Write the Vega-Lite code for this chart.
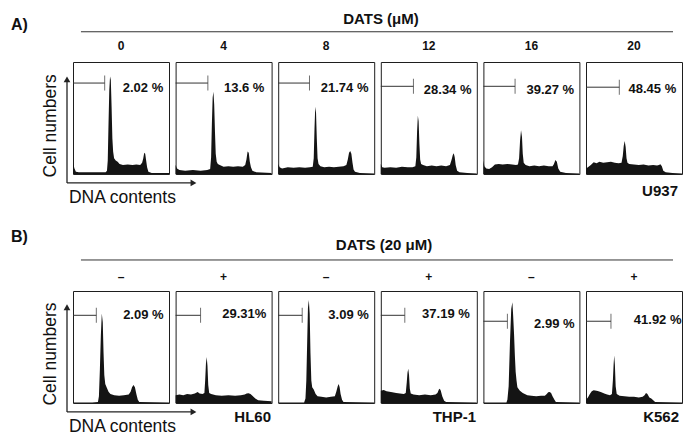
{
  "$schema": "https://vega.github.io/schema/vega-lite/v6.json",
  "background": "white",
  "padding": {"left": 10, "top": 11, "right": 4, "bottom": 4},
  "datasets": {
    "hist": [
      {"p":"A0","ch":0,"n":10},{"p":"A0","ch":1.5,"n":5},{"p":"A0","ch":3,"n":2},{"p":"A0","ch":6,"n":1.5},{"p":"A0","ch":15,"n":1.5},{"p":"A0","ch":25,"n":1.5},{"p":"A0","ch":34,"n":1.5},{"p":"A0","ch":35.4,"n":3},{"p":"A0","ch":36.2,"n":12},{"p":"A0","ch":37,"n":45},{"p":"A0","ch":37.8,"n":75},{"p":"A0","ch":38.6,"n":87},{"p":"A0","ch":39.4,"n":84},{"p":"A0","ch":40.2,"n":60},{"p":"A0","ch":41,"n":32},{"p":"A0","ch":41.8,"n":20},{"p":"A0","ch":42.8,"n":14},{"p":"A0","ch":44.5,"n":12},{"p":"A0","ch":46.5,"n":11},{"p":"A0","ch":48.5,"n":9},{"p":"A0","ch":52,"n":8},{"p":"A0","ch":57,"n":8.5},{"p":"A0","ch":62,"n":8},{"p":"A0","ch":66,"n":8.5},{"p":"A0","ch":70,"n":8},{"p":"A0","ch":72,"n":10},{"p":"A0","ch":73.2,"n":14},{"p":"A0","ch":74.2,"n":19},{"p":"A0","ch":75.2,"n":18},{"p":"A0","ch":76.2,"n":12},{"p":"A0","ch":77.2,"n":6},{"p":"A0","ch":78.5,"n":2},{"p":"A0","ch":82,"n":1},{"p":"A0","ch":100,"n":1},
      {"p":"A4","ch":0,"n":8},{"p":"A4","ch":1.5,"n":5},{"p":"A4","ch":4,"n":3.5},{"p":"A4","ch":10,"n":3},{"p":"A4","ch":18,"n":3.5},{"p":"A4","ch":26,"n":3},{"p":"A4","ch":33,"n":3.5},{"p":"A4","ch":36,"n":4.5},{"p":"A4","ch":37,"n":15},{"p":"A4","ch":37.8,"n":45},{"p":"A4","ch":38.6,"n":68},{"p":"A4","ch":39.4,"n":73.5},{"p":"A4","ch":40.2,"n":62},{"p":"A4","ch":41,"n":38},{"p":"A4","ch":41.8,"n":18},{"p":"A4","ch":42.8,"n":11},{"p":"A4","ch":44,"n":9},{"p":"A4","ch":46,"n":8},{"p":"A4","ch":50,"n":6.5},{"p":"A4","ch":55,"n":7},{"p":"A4","ch":60,"n":6.5},{"p":"A4","ch":65,"n":7},{"p":"A4","ch":70,"n":6.5},{"p":"A4","ch":72.5,"n":8},{"p":"A4","ch":73.8,"n":13},{"p":"A4","ch":75,"n":20},{"p":"A4","ch":76.2,"n":19},{"p":"A4","ch":77.3,"n":11},{"p":"A4","ch":78.5,"n":6},{"p":"A4","ch":80,"n":3},{"p":"A4","ch":84,"n":1.5},{"p":"A4","ch":100,"n":1},
      {"p":"A8","ch":0,"n":9},{"p":"A8","ch":1.5,"n":6},{"p":"A8","ch":4,"n":5},{"p":"A8","ch":10,"n":6},{"p":"A8","ch":16,"n":5.5},{"p":"A8","ch":22,"n":6},{"p":"A8","ch":28,"n":5.5},{"p":"A8","ch":33,"n":6},{"p":"A8","ch":36,"n":6.5},{"p":"A8","ch":37,"n":14},{"p":"A8","ch":37.8,"n":40},{"p":"A8","ch":38.6,"n":60},{"p":"A8","ch":39.4,"n":55},{"p":"A8","ch":40.2,"n":32},{"p":"A8","ch":41,"n":14},{"p":"A8","ch":42,"n":9},{"p":"A8","ch":44,"n":7},{"p":"A8","ch":48,"n":6},{"p":"A8","ch":53,"n":6.5},{"p":"A8","ch":58,"n":6},{"p":"A8","ch":63,"n":6.5},{"p":"A8","ch":68,"n":7},{"p":"A8","ch":71,"n":8},{"p":"A8","ch":72.5,"n":13},{"p":"A8","ch":73.8,"n":19},{"p":"A8","ch":75,"n":20.5},{"p":"A8","ch":76.2,"n":18},{"p":"A8","ch":77.4,"n":10},{"p":"A8","ch":78.5,"n":4},{"p":"A8","ch":80,"n":2},{"p":"A8","ch":85,"n":1},{"p":"A8","ch":100,"n":0.5},
      {"p":"A12","ch":0,"n":9},{"p":"A12","ch":1.5,"n":6},{"p":"A12","ch":4,"n":5.5},{"p":"A12","ch":10,"n":6},{"p":"A12","ch":16,"n":5.5},{"p":"A12","ch":22,"n":6.5},{"p":"A12","ch":28,"n":6},{"p":"A12","ch":33,"n":6},{"p":"A12","ch":36,"n":7},{"p":"A12","ch":37,"n":15},{"p":"A12","ch":37.8,"n":38},{"p":"A12","ch":38.6,"n":52},{"p":"A12","ch":39.4,"n":47},{"p":"A12","ch":40.2,"n":27},{"p":"A12","ch":41,"n":13},{"p":"A12","ch":42,"n":9},{"p":"A12","ch":44,"n":8},{"p":"A12","ch":48,"n":7},{"p":"A12","ch":53,"n":7.5},{"p":"A12","ch":58,"n":7},{"p":"A12","ch":63,"n":7.5},{"p":"A12","ch":68,"n":7},{"p":"A12","ch":72,"n":8},{"p":"A12","ch":73.5,"n":12},{"p":"A12","ch":75,"n":17},{"p":"A12","ch":76,"n":18.5},{"p":"A12","ch":77,"n":15},{"p":"A12","ch":78,"n":8},{"p":"A12","ch":79.5,"n":3},{"p":"A12","ch":82,"n":1.5},{"p":"A12","ch":90,"n":1},{"p":"A12","ch":100,"n":0.5},
      {"p":"A16","ch":0,"n":12},{"p":"A16","ch":1,"n":7},{"p":"A16","ch":3,"n":5},{"p":"A16","ch":6,"n":4.5},{"p":"A16","ch":9,"n":6},{"p":"A16","ch":12,"n":8.5},{"p":"A16","ch":16,"n":9},{"p":"A16","ch":20,"n":8.5},{"p":"A16","ch":25,"n":9},{"p":"A16","ch":30,"n":8.5},{"p":"A16","ch":34,"n":8},{"p":"A16","ch":36,"n":8.5},{"p":"A16","ch":37.2,"n":14},{"p":"A16","ch":38.2,"n":30},{"p":"A16","ch":39.2,"n":39},{"p":"A16","ch":40.2,"n":33},{"p":"A16","ch":41,"n":18},{"p":"A16","ch":42,"n":10},{"p":"A16","ch":44,"n":8},{"p":"A16","ch":48,"n":7},{"p":"A16","ch":53,"n":7.5},{"p":"A16","ch":58,"n":7},{"p":"A16","ch":63,"n":7.5},{"p":"A16","ch":68,"n":7},{"p":"A16","ch":72,"n":7},{"p":"A16","ch":73.5,"n":9},{"p":"A16","ch":75,"n":12.5},{"p":"A16","ch":76.5,"n":11},{"p":"A16","ch":78,"n":5},{"p":"A16","ch":80,"n":2},{"p":"A16","ch":86,"n":1},{"p":"A16","ch":100,"n":0.5},
      {"p":"A20","ch":0,"n":5},{"p":"A20","ch":2,"n":6},{"p":"A20","ch":5,"n":8},{"p":"A20","ch":8,"n":10.5},{"p":"A20","ch":11,"n":9.5},{"p":"A20","ch":14,"n":11},{"p":"A20","ch":18,"n":10},{"p":"A20","ch":22,"n":10.5},{"p":"A20","ch":26,"n":11},{"p":"A20","ch":30,"n":10},{"p":"A20","ch":34,"n":9.5},{"p":"A20","ch":37,"n":10},{"p":"A20","ch":38.3,"n":16},{"p":"A20","ch":39.3,"n":25},{"p":"A20","ch":40.3,"n":29.5},{"p":"A20","ch":41.3,"n":24},{"p":"A20","ch":42.2,"n":14},{"p":"A20","ch":43.2,"n":10},{"p":"A20","ch":45,"n":9},{"p":"A20","ch":50,"n":8.5},{"p":"A20","ch":55,"n":8},{"p":"A20","ch":60,"n":8.5},{"p":"A20","ch":65,"n":7.5},{"p":"A20","ch":70,"n":8},{"p":"A20","ch":74,"n":7.5},{"p":"A20","ch":76,"n":8},{"p":"A20","ch":77.5,"n":8.6},{"p":"A20","ch":79,"n":7},{"p":"A20","ch":80.5,"n":3},{"p":"A20","ch":83,"n":1.5},{"p":"A20","ch":90,"n":1},{"p":"A20","ch":100,"n":0.5},
      {"p":"B1","ch":0,"n":0.5},{"p":"B1","ch":20,"n":0.5},{"p":"B1","ch":26,"n":1},{"p":"B1","ch":27,"n":6},{"p":"B1","ch":28,"n":30},{"p":"B1","ch":29,"n":60},{"p":"B1","ch":30,"n":80},{"p":"B1","ch":31,"n":72},{"p":"B1","ch":31.8,"n":45},{"p":"B1","ch":32.6,"n":25},{"p":"B1","ch":33.6,"n":17},{"p":"B1","ch":35,"n":14},{"p":"B1","ch":37,"n":10},{"p":"B1","ch":39,"n":8},{"p":"B1","ch":43,"n":7},{"p":"B1","ch":48,"n":6.5},{"p":"B1","ch":53,"n":7},{"p":"B1","ch":58,"n":7.5},{"p":"B1","ch":60,"n":10},{"p":"B1","ch":61.5,"n":14},{"p":"B1","ch":63,"n":16},{"p":"B1","ch":64.5,"n":14},{"p":"B1","ch":66,"n":8},{"p":"B1","ch":67.5,"n":3},{"p":"B1","ch":69,"n":0.8},{"p":"B1","ch":100,"n":0.5},
      {"p":"B2","ch":0,"n":7},{"p":"B2","ch":4,"n":7.5},{"p":"B2","ch":8,"n":7},{"p":"B2","ch":12,"n":8},{"p":"B2","ch":16,"n":7.5},{"p":"B2","ch":20,"n":8.5},{"p":"B2","ch":23,"n":9.8},{"p":"B2","ch":25,"n":8.5},{"p":"B2","ch":28,"n":8},{"p":"B2","ch":30,"n":9},{"p":"B2","ch":30.8,"n":20},{"p":"B2","ch":31.6,"n":35},{"p":"B2","ch":32.4,"n":41},{"p":"B2","ch":33.2,"n":33},{"p":"B2","ch":34,"n":16},{"p":"B2","ch":35,"n":9},{"p":"B2","ch":37,"n":8},{"p":"B2","ch":42,"n":7},{"p":"B2","ch":48,"n":6.5},{"p":"B2","ch":55,"n":7},{"p":"B2","ch":62,"n":6.5},{"p":"B2","ch":68,"n":7},{"p":"B2","ch":72,"n":7.5},{"p":"B2","ch":74,"n":8.5},{"p":"B2","ch":76,"n":8.8},{"p":"B2","ch":78,"n":8},{"p":"B2","ch":80,"n":6.5},{"p":"B2","ch":83,"n":4},{"p":"B2","ch":86,"n":2.5},{"p":"B2","ch":92,"n":2},{"p":"B2","ch":100,"n":1.5},
      {"p":"B3","ch":0,"n":0.5},{"p":"B3","ch":27,"n":0.5},{"p":"B3","ch":28.4,"n":4},{"p":"B3","ch":29.3,"n":20},{"p":"B3","ch":30.2,"n":55},{"p":"B3","ch":31,"n":85},{"p":"B3","ch":31.9,"n":92},{"p":"B3","ch":32.8,"n":80},{"p":"B3","ch":33.6,"n":45},{"p":"B3","ch":34.5,"n":20},{"p":"B3","ch":35.4,"n":14},{"p":"B3","ch":37,"n":12},{"p":"B3","ch":39,"n":8},{"p":"B3","ch":41,"n":6},{"p":"B3","ch":45,"n":5.5},{"p":"B3","ch":50,"n":5},{"p":"B3","ch":55,"n":5.5},{"p":"B3","ch":59,"n":6},{"p":"B3","ch":60.5,"n":10},{"p":"B3","ch":62,"n":15},{"p":"B3","ch":63,"n":17},{"p":"B3","ch":64,"n":14},{"p":"B3","ch":65,"n":8},{"p":"B3","ch":66.5,"n":3},{"p":"B3","ch":68,"n":0.8},{"p":"B3","ch":100,"n":0.5},
      {"p":"B4","ch":0,"n":11},{"p":"B4","ch":3,"n":11.5},{"p":"B4","ch":6,"n":10.5},{"p":"B4","ch":9,"n":10},{"p":"B4","ch":12,"n":9.5},{"p":"B4","ch":16,"n":9},{"p":"B4","ch":20,"n":8.5},{"p":"B4","ch":24,"n":8},{"p":"B4","ch":26,"n":9},{"p":"B4","ch":27,"n":18},{"p":"B4","ch":27.8,"n":27},{"p":"B4","ch":28.6,"n":30.6},{"p":"B4","ch":29.4,"n":25},{"p":"B4","ch":30.2,"n":13},{"p":"B4","ch":31.2,"n":8.5},{"p":"B4","ch":34,"n":7.5},{"p":"B4","ch":40,"n":7},{"p":"B4","ch":46,"n":7.5},{"p":"B4","ch":52,"n":7},{"p":"B4","ch":57,"n":7.5},{"p":"B4","ch":59,"n":9},{"p":"B4","ch":60.5,"n":12},{"p":"B4","ch":61.5,"n":12.8},{"p":"B4","ch":62.5,"n":11},{"p":"B4","ch":64,"n":6},{"p":"B4","ch":66,"n":2},{"p":"B4","ch":68,"n":0.8},{"p":"B4","ch":100,"n":0.5},
      {"p":"B5","ch":0,"n":0.5},{"p":"B5","ch":24,"n":0.5},{"p":"B5","ch":25,"n":3},{"p":"B5","ch":26.3,"n":15},{"p":"B5","ch":27.7,"n":55},{"p":"B5","ch":29,"n":84},{"p":"B5","ch":30.2,"n":90},{"p":"B5","ch":31,"n":78},{"p":"B5","ch":31.9,"n":62},{"p":"B5","ch":32.8,"n":42},{"p":"B5","ch":33.6,"n":28},{"p":"B5","ch":34.5,"n":20},{"p":"B5","ch":35.4,"n":14},{"p":"B5","ch":38,"n":11},{"p":"B5","ch":41,"n":9},{"p":"B5","ch":45.8,"n":7},{"p":"B5","ch":50,"n":6.5},{"p":"B5","ch":55,"n":6},{"p":"B5","ch":60,"n":6.5},{"p":"B5","ch":64,"n":6.5},{"p":"B5","ch":66,"n":8},{"p":"B5","ch":67.5,"n":9.5},{"p":"B5","ch":69,"n":9.8},{"p":"B5","ch":70.5,"n":9},{"p":"B5","ch":72,"n":6},{"p":"B5","ch":74,"n":3},{"p":"B5","ch":75.5,"n":1},{"p":"B5","ch":100,"n":0.5},
      {"p":"B6","ch":0,"n":3},{"p":"B6","ch":2,"n":5},{"p":"B6","ch":4,"n":8},{"p":"B6","ch":6,"n":10.5},{"p":"B6","ch":8,"n":11.3},{"p":"B6","ch":11,"n":11},{"p":"B6","ch":13,"n":10.5},{"p":"B6","ch":16,"n":9.5},{"p":"B6","ch":19,"n":8.5},{"p":"B6","ch":22,"n":7.5},{"p":"B6","ch":25,"n":7},{"p":"B6","ch":27,"n":8},{"p":"B6","ch":28,"n":20},{"p":"B6","ch":28.8,"n":35},{"p":"B6","ch":29.4,"n":42.5},{"p":"B6","ch":30.1,"n":34},{"p":"B6","ch":30.9,"n":15},{"p":"B6","ch":32,"n":8},{"p":"B6","ch":35,"n":6.5},{"p":"B6","ch":40,"n":6},{"p":"B6","ch":45,"n":5.5},{"p":"B6","ch":50,"n":5.5},{"p":"B6","ch":55,"n":5},{"p":"B6","ch":59,"n":5.5},{"p":"B6","ch":61,"n":7},{"p":"B6","ch":62.5,"n":9},{"p":"B6","ch":64,"n":8},{"p":"B6","ch":66,"n":5},{"p":"B6","ch":68,"n":4},{"p":"B6","ch":70,"n":2.5},{"p":"B6","ch":72,"n":0.8},{"p":"B6","ch":100,"n":0.5}
    ],
    "gates": [
      {"p":"A0","cond":"0","gate_x":33,"gate_y":81.2,"label":"2.02 %"},
      {"p":"A4","cond":"4","gate_x":33.6,"gate_y":81.2,"label":"13.6 %"},
      {"p":"A8","cond":"8","gate_x":32.6,"gate_y":81.2,"label":"21.74 %"},
      {"p":"A12","cond":"12","gate_x":34,"gate_y":78.3,"label":"28.34 %"},
      {"p":"A16","cond":"16","gate_x":33,"gate_y":78.3,"label":"39.27 %"},
      {"p":"A20","cond":"20","gate_x":34.7,"gate_y":77.5,"label":"48.45 %"},
      {"p":"B1","cond":"–","gate_x":24.3,"gate_y":78.3,"label":"2.09 %"},
      {"p":"B2","cond":"+","gate_x":26,"gate_y":78.3,"label":"29.31%"},
      {"p":"B3","cond":"–","gate_x":25,"gate_y":78.3,"label":"3.09 %"},
      {"p":"B4","cond":"+","gate_x":25,"gate_y":78.3,"label":"37.19 %"},
      {"p":"B5","cond":"–","gate_x":25,"gate_y":73,"label":"2.99 %"},
      {"p":"B6","cond":"+","gate_x":26,"gate_y":73,"label":"41.92 %"}
    ]
  },
  "columns": 6,
  "bounds": "flush",
  "spacing": {"row": 117, "column": 6.6},
  "concat": [
    {"width": 96, "height": 112, "layer": [
      {"data": {"name": "hist"}, "transform": [{"filter": "datum.p == 'A0'"}], "mark": {"type": "area", "color": "#141414"}, "encoding": {"x": {"field": "ch", "type": "quantitative", "scale": {"domain": [0, 100], "nice": false, "zero": false}}, "y": {"field": "n", "type": "quantitative", "scale": {"domain": [0, 100], "nice": false}}}},
      {"data": {"name": "gates"}, "transform": [{"filter": "datum.p == 'A0'"}], "layer": [
        {"mark": {"type": "rule", "color": "#333"}, "encoding": {"x": {"field": "gate_x", "type": "quantitative"}, "x2": {"datum": 0}, "y": {"field": "gate_y", "type": "quantitative"}}},
        {"mark": {"type": "tick", "orient": "vertical", "size": 15, "thickness": 1, "color": "#333"}, "encoding": {"x": {"field": "gate_x", "type": "quantitative"}, "y": {"field": "gate_y", "type": "quantitative"}}},
        {"mark": {"type": "text", "align": "right", "baseline": "middle", "dy": 5, "fontSize": 13, "fontWeight": "bold", "color": "#111"}, "encoding": {"x": {"datum": 94}, "y": {"field": "gate_y", "type": "quantitative"}, "text": {"field": "label"}}},
        {"mark": {"type": "text", "baseline": "middle", "fontSize": 12, "fontWeight": "bold", "color": "#111"}, "encoding": {"x": {"datum": 50}, "y": {"datum": 114.3}, "text": {"field": "cond"}}}
      ]},
      {"data": {"values": [{}]}, "layer": [
        {"mark": {"type": "rule", "color": "#222", "strokeWidth": 1.3}, "encoding": {"x": {"datum": -6.25}, "y": {"datum": -8}, "y2": {"datum": 84}}},
        {"mark": {"type": "rule", "color": "#222", "strokeWidth": 1.3}, "encoding": {"x": {"datum": -6.25}, "x2": {"datum": 125}, "y": {"datum": -8}}},
        {"mark": {"type": "point", "shape": "triangle-up", "filled": true, "size": 45, "color": "#222", "opacity": 1}, "encoding": {"x": {"datum": -6.25}, "y": {"datum": 84.5}}},
        {"mark": {"type": "point", "shape": "triangle-right", "filled": true, "size": 45, "color": "#222", "opacity": 1}, "encoding": {"x": {"datum": 125.5}, "y": {"datum": -8}}},
        {"mark": {"type": "text", "text": "Cell numbers", "angle": 270, "fontSize": 17.5, "baseline": "middle", "align": "center", "color": "#111"}, "encoding": {"x": {"datum": -22.9}, "y": {"datum": 43}}},
        {"mark": {"type": "text", "text": "DNA contents", "fontSize": 17.5, "baseline": "middle", "align": "left", "color": "#111"}, "encoding": {"x": {"datum": -4.2}, "y": {"datum": -21}}},
        {"mark": {"type": "text", "text": "A)", "fontSize": 16, "fontWeight": "bold", "baseline": "middle", "align": "left", "color": "#111"}, "encoding": {"x": {"datum": -64.6}, "y": {"datum": 133}}},
        {"mark": {"type": "rule", "color": "#333", "strokeWidth": 1}, "encoding": {"x": {"datum": 8.3}, "x2": {"datum": 625}, "y": {"datum": 127}}},
        {"mark": {"type": "text", "text": "DATS (μM)", "fontSize": 15, "fontWeight": "bold", "baseline": "middle", "align": "center", "color": "#111"}, "encoding": {"x": {"datum": 320.8}, "y": {"datum": 138.4}}}
      ]}
    ]},
    {"width": 96, "height": 112, "layer": [
      {"data": {"name": "hist"}, "transform": [{"filter": "datum.p == 'A4'"}], "mark": {"type": "area", "color": "#141414"}, "encoding": {"x": {"field": "ch", "type": "quantitative", "scale": {"domain": [0, 100], "nice": false, "zero": false}}, "y": {"field": "n", "type": "quantitative", "scale": {"domain": [0, 100], "nice": false}}}},
      {"data": {"name": "gates"}, "transform": [{"filter": "datum.p == 'A4'"}], "layer": [
        {"mark": {"type": "rule", "color": "#333"}, "encoding": {"x": {"field": "gate_x", "type": "quantitative"}, "x2": {"datum": 0}, "y": {"field": "gate_y", "type": "quantitative"}}},
        {"mark": {"type": "tick", "orient": "vertical", "size": 15, "thickness": 1, "color": "#333"}, "encoding": {"x": {"field": "gate_x", "type": "quantitative"}, "y": {"field": "gate_y", "type": "quantitative"}}},
        {"mark": {"type": "text", "align": "right", "baseline": "middle", "dy": 5, "fontSize": 13, "fontWeight": "bold", "color": "#111"}, "encoding": {"x": {"datum": 92.5}, "y": {"field": "gate_y", "type": "quantitative"}, "text": {"field": "label"}}},
        {"mark": {"type": "text", "baseline": "middle", "fontSize": 12, "fontWeight": "bold", "color": "#111"}, "encoding": {"x": {"datum": 50}, "y": {"datum": 114.3}, "text": {"field": "cond"}}}
      ]}
    ]},
    {"width": 96, "height": 112, "layer": [
      {"data": {"name": "hist"}, "transform": [{"filter": "datum.p == 'A8'"}], "mark": {"type": "area", "color": "#141414"}, "encoding": {"x": {"field": "ch", "type": "quantitative", "scale": {"domain": [0, 100], "nice": false, "zero": false}}, "y": {"field": "n", "type": "quantitative", "scale": {"domain": [0, 100], "nice": false}}}},
      {"data": {"name": "gates"}, "transform": [{"filter": "datum.p == 'A8'"}], "layer": [
        {"mark": {"type": "rule", "color": "#333"}, "encoding": {"x": {"field": "gate_x", "type": "quantitative"}, "x2": {"datum": 0}, "y": {"field": "gate_y", "type": "quantitative"}}},
        {"mark": {"type": "tick", "orient": "vertical", "size": 15, "thickness": 1, "color": "#333"}, "encoding": {"x": {"field": "gate_x", "type": "quantitative"}, "y": {"field": "gate_y", "type": "quantitative"}}},
        {"mark": {"type": "text", "align": "right", "baseline": "middle", "dy": 5, "fontSize": 13, "fontWeight": "bold", "color": "#111"}, "encoding": {"x": {"datum": 94}, "y": {"field": "gate_y", "type": "quantitative"}, "text": {"field": "label"}}},
        {"mark": {"type": "text", "baseline": "middle", "fontSize": 12, "fontWeight": "bold", "color": "#111"}, "encoding": {"x": {"datum": 50}, "y": {"datum": 114.3}, "text": {"field": "cond"}}}
      ]}
    ]},
    {"width": 96, "height": 112, "layer": [
      {"data": {"name": "hist"}, "transform": [{"filter": "datum.p == 'A12'"}], "mark": {"type": "area", "color": "#141414"}, "encoding": {"x": {"field": "ch", "type": "quantitative", "scale": {"domain": [0, 100], "nice": false, "zero": false}}, "y": {"field": "n", "type": "quantitative", "scale": {"domain": [0, 100], "nice": false}}}},
      {"data": {"name": "gates"}, "transform": [{"filter": "datum.p == 'A12'"}], "layer": [
        {"mark": {"type": "rule", "color": "#333"}, "encoding": {"x": {"field": "gate_x", "type": "quantitative"}, "x2": {"datum": 0}, "y": {"field": "gate_y", "type": "quantitative"}}},
        {"mark": {"type": "tick", "orient": "vertical", "size": 15, "thickness": 1, "color": "#333"}, "encoding": {"x": {"field": "gate_x", "type": "quantitative"}, "y": {"field": "gate_y", "type": "quantitative"}}},
        {"mark": {"type": "text", "align": "right", "baseline": "middle", "dy": 3.5, "fontSize": 13, "fontWeight": "bold", "color": "#111"}, "encoding": {"x": {"datum": 94.5}, "y": {"field": "gate_y", "type": "quantitative"}, "text": {"field": "label"}}},
        {"mark": {"type": "text", "baseline": "middle", "fontSize": 12, "fontWeight": "bold", "color": "#111"}, "encoding": {"x": {"datum": 50}, "y": {"datum": 114.3}, "text": {"field": "cond"}}}
      ]}
    ]},
    {"width": 96, "height": 112, "layer": [
      {"data": {"name": "hist"}, "transform": [{"filter": "datum.p == 'A16'"}], "mark": {"type": "area", "color": "#141414"}, "encoding": {"x": {"field": "ch", "type": "quantitative", "scale": {"domain": [0, 100], "nice": false, "zero": false}}, "y": {"field": "n", "type": "quantitative", "scale": {"domain": [0, 100], "nice": false}}}},
      {"data": {"name": "gates"}, "transform": [{"filter": "datum.p == 'A16'"}], "layer": [
        {"mark": {"type": "rule", "color": "#333"}, "encoding": {"x": {"field": "gate_x", "type": "quantitative"}, "x2": {"datum": 0}, "y": {"field": "gate_y", "type": "quantitative"}}},
        {"mark": {"type": "tick", "orient": "vertical", "size": 15, "thickness": 1, "color": "#333"}, "encoding": {"x": {"field": "gate_x", "type": "quantitative"}, "y": {"field": "gate_y", "type": "quantitative"}}},
        {"mark": {"type": "text", "align": "right", "baseline": "middle", "dy": 3.5, "fontSize": 13, "fontWeight": "bold", "color": "#111"}, "encoding": {"x": {"datum": 94.5}, "y": {"field": "gate_y", "type": "quantitative"}, "text": {"field": "label"}}},
        {"mark": {"type": "text", "baseline": "middle", "fontSize": 12, "fontWeight": "bold", "color": "#111"}, "encoding": {"x": {"datum": 50}, "y": {"datum": 114.3}, "text": {"field": "cond"}}}
      ]}
    ]},
    {"width": 96, "height": 112, "layer": [
      {"data": {"name": "hist"}, "transform": [{"filter": "datum.p == 'A20'"}], "mark": {"type": "area", "color": "#141414"}, "encoding": {"x": {"field": "ch", "type": "quantitative", "scale": {"domain": [0, 100], "nice": false, "zero": false}}, "y": {"field": "n", "type": "quantitative", "scale": {"domain": [0, 100], "nice": false}}}},
      {"data": {"name": "gates"}, "transform": [{"filter": "datum.p == 'A20'"}], "layer": [
        {"mark": {"type": "rule", "color": "#333"}, "encoding": {"x": {"field": "gate_x", "type": "quantitative"}, "x2": {"datum": 0}, "y": {"field": "gate_y", "type": "quantitative"}}},
        {"mark": {"type": "tick", "orient": "vertical", "size": 15, "thickness": 1, "color": "#333"}, "encoding": {"x": {"field": "gate_x", "type": "quantitative"}, "y": {"field": "gate_y", "type": "quantitative"}}},
        {"mark": {"type": "text", "align": "right", "baseline": "middle", "dy": 2, "fontSize": 13, "fontWeight": "bold", "color": "#111"}, "encoding": {"x": {"datum": 94}, "y": {"field": "gate_y", "type": "quantitative"}, "text": {"field": "label"}}},
        {"mark": {"type": "text", "baseline": "middle", "fontSize": 12, "fontWeight": "bold", "color": "#111"}, "encoding": {"x": {"datum": 50}, "y": {"datum": 114.3}, "text": {"field": "cond"}}}
      ]},
      {"data": {"values": [{}]}, "mark": {"type": "text", "text": "U937", "fontSize": 15, "fontWeight": "bold", "baseline": "middle", "align": "right", "color": "#111"}, "encoding": {"x": {"datum": 95.8}, "y": {"datum": -15}}}
    ]},
    {"width": 96, "height": 112, "layer": [
      {"data": {"name": "hist"}, "transform": [{"filter": "datum.p == 'B1'"}], "mark": {"type": "area", "color": "#141414"}, "encoding": {"x": {"field": "ch", "type": "quantitative", "scale": {"domain": [0, 100], "nice": false, "zero": false}}, "y": {"field": "n", "type": "quantitative", "scale": {"domain": [0, 100], "nice": false}}}},
      {"data": {"name": "gates"}, "transform": [{"filter": "datum.p == 'B1'"}], "layer": [
        {"mark": {"type": "rule", "color": "#333"}, "encoding": {"x": {"field": "gate_x", "type": "quantitative"}, "x2": {"datum": 0}, "y": {"field": "gate_y", "type": "quantitative"}}},
        {"mark": {"type": "tick", "orient": "vertical", "size": 15, "thickness": 1, "color": "#333"}, "encoding": {"x": {"field": "gate_x", "type": "quantitative"}, "y": {"field": "gate_y", "type": "quantitative"}}},
        {"mark": {"type": "text", "align": "right", "baseline": "middle", "dy": 0, "fontSize": 13, "fontWeight": "bold", "color": "#111"}, "encoding": {"x": {"datum": 94.4}, "y": {"field": "gate_y", "type": "quantitative"}, "text": {"field": "label"}}},
        {"mark": {"type": "text", "baseline": "middle", "fontSize": 12, "fontWeight": "bold", "color": "#111"}, "encoding": {"x": {"datum": 50}, "y": {"datum": 112.5}, "text": {"field": "cond"}}}
      ]},
      {"data": {"values": [{}]}, "layer": [
        {"mark": {"type": "rule", "color": "#222", "strokeWidth": 1.3}, "encoding": {"x": {"datum": -6.25}, "y": {"datum": -8}, "y2": {"datum": 85}}},
        {"mark": {"type": "rule", "color": "#222", "strokeWidth": 1.3}, "encoding": {"x": {"datum": -6.25}, "x2": {"datum": 125}, "y": {"datum": -8}}},
        {"mark": {"type": "point", "shape": "triangle-up", "filled": true, "size": 45, "color": "#222", "opacity": 1}, "encoding": {"x": {"datum": -6.25}, "y": {"datum": 85.5}}},
        {"mark": {"type": "point", "shape": "triangle-right", "filled": true, "size": 45, "color": "#222", "opacity": 1}, "encoding": {"x": {"datum": 125.5}, "y": {"datum": -8}}},
        {"mark": {"type": "text", "text": "Cell numbers", "angle": 270, "fontSize": 17.5, "baseline": "middle", "align": "center", "color": "#111"}, "encoding": {"x": {"datum": -22.9}, "y": {"datum": 43.7}}},
        {"mark": {"type": "text", "text": "DNA contents", "fontSize": 17.5, "baseline": "middle", "align": "left", "color": "#111"}, "encoding": {"x": {"datum": -4.2}, "y": {"datum": -21}}},
        {"mark": {"type": "text", "text": "B)", "fontSize": 16, "fontWeight": "bold", "baseline": "middle", "align": "left", "color": "#111"}, "encoding": {"x": {"datum": -64.6}, "y": {"datum": 148.2}}},
        {"mark": {"type": "rule", "color": "#333", "strokeWidth": 1}, "encoding": {"x": {"datum": 8.3}, "x2": {"datum": 625}, "y": {"datum": 127.7}}},
        {"mark": {"type": "text", "text": "DATS (20 μM)", "fontSize": 15, "fontWeight": "bold", "baseline": "middle", "align": "center", "color": "#111"}, "encoding": {"x": {"datum": 324}, "y": {"datum": 141}}}
      ]}
    ]},
    {"width": 96, "height": 112, "layer": [
      {"data": {"name": "hist"}, "transform": [{"filter": "datum.p == 'B2'"}], "mark": {"type": "area", "color": "#141414"}, "encoding": {"x": {"field": "ch", "type": "quantitative", "scale": {"domain": [0, 100], "nice": false, "zero": false}}, "y": {"field": "n", "type": "quantitative", "scale": {"domain": [0, 100], "nice": false}}}},
      {"data": {"name": "gates"}, "transform": [{"filter": "datum.p == 'B2'"}], "layer": [
        {"mark": {"type": "rule", "color": "#333"}, "encoding": {"x": {"field": "gate_x", "type": "quantitative"}, "x2": {"datum": 0}, "y": {"field": "gate_y", "type": "quantitative"}}},
        {"mark": {"type": "tick", "orient": "vertical", "size": 15, "thickness": 1, "color": "#333"}, "encoding": {"x": {"field": "gate_x", "type": "quantitative"}, "y": {"field": "gate_y", "type": "quantitative"}}},
        {"mark": {"type": "text", "align": "right", "baseline": "middle", "dy": -1.5, "fontSize": 13, "fontWeight": "bold", "color": "#111"}, "encoding": {"x": {"datum": 94.5}, "y": {"field": "gate_y", "type": "quantitative"}, "text": {"field": "label"}}},
        {"mark": {"type": "text", "baseline": "middle", "fontSize": 12, "fontWeight": "bold", "color": "#111"}, "encoding": {"x": {"datum": 50}, "y": {"datum": 112.5}, "text": {"field": "cond"}}}
      ]},
      {"data": {"values": [{}]}, "mark": {"type": "text", "text": "HL60", "fontSize": 15, "fontWeight": "bold", "baseline": "middle", "align": "right", "color": "#111"}, "encoding": {"x": {"datum": 99.4}, "y": {"datum": -12.2}}}
    ]},
    {"width": 96, "height": 112, "layer": [
      {"data": {"name": "hist"}, "transform": [{"filter": "datum.p == 'B3'"}], "mark": {"type": "area", "color": "#141414"}, "encoding": {"x": {"field": "ch", "type": "quantitative", "scale": {"domain": [0, 100], "nice": false, "zero": false}}, "y": {"field": "n", "type": "quantitative", "scale": {"domain": [0, 100], "nice": false}}}},
      {"data": {"name": "gates"}, "transform": [{"filter": "datum.p == 'B3'"}], "layer": [
        {"mark": {"type": "rule", "color": "#333"}, "encoding": {"x": {"field": "gate_x", "type": "quantitative"}, "x2": {"datum": 0}, "y": {"field": "gate_y", "type": "quantitative"}}},
        {"mark": {"type": "tick", "orient": "vertical", "size": 15, "thickness": 1, "color": "#333"}, "encoding": {"x": {"field": "gate_x", "type": "quantitative"}, "y": {"field": "gate_y", "type": "quantitative"}}},
        {"mark": {"type": "text", "align": "right", "baseline": "middle", "dy": 0, "fontSize": 13, "fontWeight": "bold", "color": "#111"}, "encoding": {"x": {"datum": 94.4}, "y": {"field": "gate_y", "type": "quantitative"}, "text": {"field": "label"}}},
        {"mark": {"type": "text", "baseline": "middle", "fontSize": 12, "fontWeight": "bold", "color": "#111"}, "encoding": {"x": {"datum": 50}, "y": {"datum": 112.5}, "text": {"field": "cond"}}}
      ]}
    ]},
    {"width": 96, "height": 112, "layer": [
      {"data": {"name": "hist"}, "transform": [{"filter": "datum.p == 'B4'"}], "mark": {"type": "area", "color": "#141414"}, "encoding": {"x": {"field": "ch", "type": "quantitative", "scale": {"domain": [0, 100], "nice": false, "zero": false}}, "y": {"field": "n", "type": "quantitative", "scale": {"domain": [0, 100], "nice": false}}}},
      {"data": {"name": "gates"}, "transform": [{"filter": "datum.p == 'B4'"}], "layer": [
        {"mark": {"type": "rule", "color": "#333"}, "encoding": {"x": {"field": "gate_x", "type": "quantitative"}, "x2": {"datum": 0}, "y": {"field": "gate_y", "type": "quantitative"}}},
        {"mark": {"type": "tick", "orient": "vertical", "size": 15, "thickness": 1, "color": "#333"}, "encoding": {"x": {"field": "gate_x", "type": "quantitative"}, "y": {"field": "gate_y", "type": "quantitative"}}},
        {"mark": {"type": "text", "align": "right", "baseline": "middle", "dy": -1.5, "fontSize": 13, "fontWeight": "bold", "color": "#111"}, "encoding": {"x": {"datum": 92.7}, "y": {"field": "gate_y", "type": "quantitative"}, "text": {"field": "label"}}},
        {"mark": {"type": "text", "baseline": "middle", "fontSize": 12, "fontWeight": "bold", "color": "#111"}, "encoding": {"x": {"datum": 50}, "y": {"datum": 112.5}, "text": {"field": "cond"}}}
      ]},
      {"data": {"values": [{}]}, "mark": {"type": "text", "text": "THP-1", "fontSize": 15, "fontWeight": "bold", "baseline": "middle", "align": "right", "color": "#111"}, "encoding": {"x": {"datum": 99.2}, "y": {"datum": -12.2}}}
    ]},
    {"width": 96, "height": 112, "layer": [
      {"data": {"name": "hist"}, "transform": [{"filter": "datum.p == 'B5'"}], "mark": {"type": "area", "color": "#141414"}, "encoding": {"x": {"field": "ch", "type": "quantitative", "scale": {"domain": [0, 100], "nice": false, "zero": false}}, "y": {"field": "n", "type": "quantitative", "scale": {"domain": [0, 100], "nice": false}}}},
      {"data": {"name": "gates"}, "transform": [{"filter": "datum.p == 'B5'"}], "layer": [
        {"mark": {"type": "rule", "color": "#333"}, "encoding": {"x": {"field": "gate_x", "type": "quantitative"}, "x2": {"datum": 0}, "y": {"field": "gate_y", "type": "quantitative"}}},
        {"mark": {"type": "tick", "orient": "vertical", "size": 15, "thickness": 1, "color": "#333"}, "encoding": {"x": {"field": "gate_x", "type": "quantitative"}, "y": {"field": "gate_y", "type": "quantitative"}}},
        {"mark": {"type": "text", "align": "right", "baseline": "middle", "dy": 2.5, "fontSize": 13, "fontWeight": "bold", "color": "#111"}, "encoding": {"x": {"datum": 95}, "y": {"field": "gate_y", "type": "quantitative"}, "text": {"field": "label"}}},
        {"mark": {"type": "text", "baseline": "middle", "fontSize": 12, "fontWeight": "bold", "color": "#111"}, "encoding": {"x": {"datum": 50}, "y": {"datum": 112.5}, "text": {"field": "cond"}}}
      ]}
    ]},
    {"width": 96, "height": 112, "layer": [
      {"data": {"name": "hist"}, "transform": [{"filter": "datum.p == 'B6'"}], "mark": {"type": "area", "color": "#141414"}, "encoding": {"x": {"field": "ch", "type": "quantitative", "scale": {"domain": [0, 100], "nice": false, "zero": false}}, "y": {"field": "n", "type": "quantitative", "scale": {"domain": [0, 100], "nice": false}}}},
      {"data": {"name": "gates"}, "transform": [{"filter": "datum.p == 'B6'"}], "layer": [
        {"mark": {"type": "rule", "color": "#333"}, "encoding": {"x": {"field": "gate_x", "type": "quantitative"}, "x2": {"datum": 0}, "y": {"field": "gate_y", "type": "quantitative"}}},
        {"mark": {"type": "tick", "orient": "vertical", "size": 15, "thickness": 1, "color": "#333"}, "encoding": {"x": {"field": "gate_x", "type": "quantitative"}, "y": {"field": "gate_y", "type": "quantitative"}}},
        {"mark": {"type": "text", "align": "right", "baseline": "middle", "dy": -1, "fontSize": 13, "fontWeight": "bold", "color": "#111"}, "encoding": {"x": {"datum": 99.5}, "y": {"field": "gate_y", "type": "quantitative"}, "text": {"field": "label"}}},
        {"mark": {"type": "text", "baseline": "middle", "fontSize": 12, "fontWeight": "bold", "color": "#111"}, "encoding": {"x": {"datum": 50}, "y": {"datum": 112.5}, "text": {"field": "cond"}}}
      ]},
      {"data": {"values": [{}]}, "mark": {"type": "text", "text": "K562", "fontSize": 15, "fontWeight": "bold", "baseline": "middle", "align": "right", "color": "#111"}, "encoding": {"x": {"datum": 96.9}, "y": {"datum": -12.2}}}
    ]}
  ],
  "config": {
    "font": "Liberation Sans, Arial, sans-serif",
    "view": {"stroke": "#1e1e1e", "strokeWidth": 1},
    "axis": {"disable": true}
  }
}
